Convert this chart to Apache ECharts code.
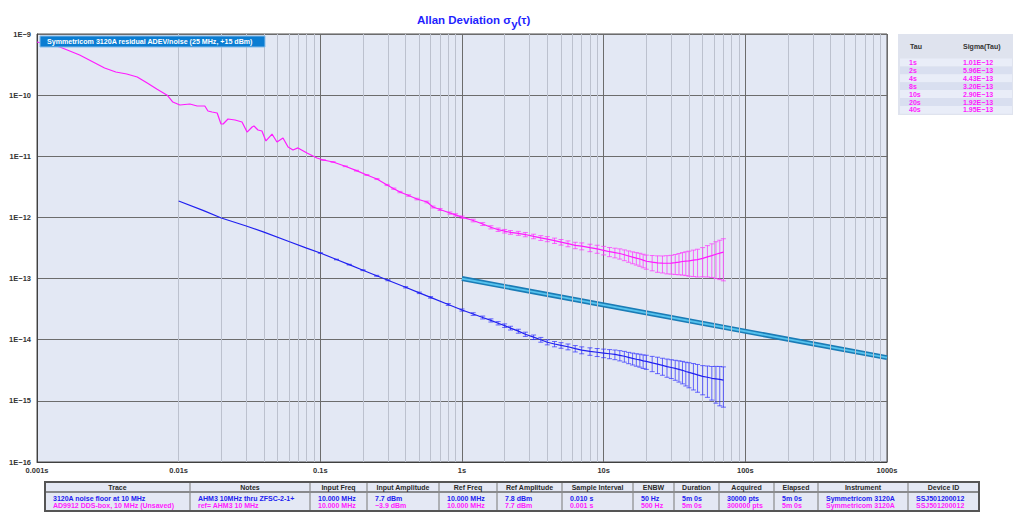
<!DOCTYPE html>
<html><head><meta charset="utf-8">
<script src="https://cdn.jsdelivr.net/npm/echarts@6/dist/echarts.min.js"></script>
<style>html,body{margin:0;padding:0;background:#fff}#c{width:1024px;height:532px}</style>
</head><body><div id="c"></div>
<script>
// ---------- DATA ----------
const xTickLabels = ['0.001s','0.01s','0.1s','1s','10s','100s','1000s'];
const yTickLabels = ['1E\u221216','1E\u221215','1E\u221214','1E\u221213','1E\u221212','1E\u221211','1E\u221210','1E\u22129'];

// AD9912 DDS-box (magenta): tau, sigma, error-bar fraction (null = no bar drawn)
const magTau = [0.001,0.00145,0.002,0.003,0.0036,0.0043,0.0051,0.006,0.007,0.0083,0.0091,0.0102,0.012,0.0135,0.0153,0.0161,0.0172,0.0187,0.0199,0.0206,0.0223,0.025,0.028,0.0304,0.033,0.034,0.0363,0.0387,0.0413,0.0456,0.0494,0.0545,0.0592,0.0641,0.0695,0.0805,0.0946,
  0.105,0.123,0.15,0.18,0.213,0.251,0.296,0.33,0.365,0.42,0.481,0.566,0.624,0.7,0.822,0.9,1,
  1.2,1.4,1.6,1.8,2,2.2,2.5,2.8,3.2,3.6,4,4.5,5,5.6,6.3,7,8,9,10,
  11,12,13,14,15,16,17,18,19,20,22,24,26,28,30,32,34,36,38,40,43,46,50,54,58,62,66,70];
const magSigma = [7.4e-10,6.12e-10,4.54e-10,2.78e-10,2.39e-10,2.22e-10,1.98e-10,1.58e-10,1.26e-10,1.0e-10,7.72e-11,6.9e-11,7.16e-11,6.64e-11,6.64e-11,5.5e-11,5.3e-11,5.11e-11,3.37e-11,3.37e-11,4.07e-11,3.92e-11,3.64e-11,2.49e-11,3.01e-11,3.13e-11,2.69e-11,2.59e-11,1.78e-11,2.31e-11,1.71e-11,1.99e-11,1.42e-11,1.27e-11,1.37e-11,1.13e-11,9.37e-12,
  8.69e-12,8.06e-12,6.86e-12,5.82e-12,4.94e-12,4.25e-12,3.39e-12,2.95e-12,2.6e-12,2.28e-12,2.0e-12,1.79e-12,1.48e-12,1.35e-12,1.18e-12,1.1e-12,1.01e-12,
  8.9e-13,7.8e-13,6.9e-13,6.3e-13,5.96e-13,5.7e-13,5.5e-13,5.25e-13,4.9e-13,4.62e-13,4.43e-13,4.17e-13,3.94e-13,3.72e-13,3.5e-13,3.39e-13,3.2e-13,3.05e-13,2.9e-13,
  2.75e-13,2.66e-13,2.57e-13,2.45e-13,2.34e-13,2.24e-13,2.16e-13,2.09e-13,2.0e-13,1.92e-13,1.86e-13,1.81e-13,1.79e-13,1.78e-13,1.79e-13,1.82e-13,1.86e-13,1.9e-13,1.93e-13,1.95e-13,2.0e-13,2.04e-13,2.14e-13,2.26e-13,2.37e-13,2.5e-13,2.6e-13,2.7e-13];
const magErr = [null,null,null,null,null,null,null,null,null,null,null,null,null,null,null,null,null,null,null,null,null,null,null,null,null,null,null,null,null,null,null,null,null,null,null,null,null,
  0.012,0.013,0.014,0.016,0.018,0.02,0.022,0.024,0.026,0.028,0.03,0.033,0.035,0.038,0.041,0.043,0.045,
  0.05,0.055,0.06,0.063,0.067,0.07,0.075,0.08,0.085,0.09,0.095,0.1,0.105,0.11,0.12,0.13,0.14,0.15,0.16,
  0.17,0.18,0.19,0.2,0.21,0.22,0.23,0.24,0.25,0.26,0.28,0.3,0.31,0.33,0.34,0.36,0.38,0.4,0.42,0.44,0.46,0.48,0.5,0.53,0.56,0.6,0.63,0.66];

// 3120A noise floor (blue)
const blueTau = [0.01,0.015,0.02,0.03,0.04,0.06,0.08,0.1,0.13,0.16,0.2,0.25,0.3,0.4,0.5,0.6,0.8,1,
  1.2,1.4,1.6,1.8,2,2.2,2.5,2.8,3.2,3.6,4,4.5,5,5.6,6.3,7,8,9,10,
  11,12,13,14,15,16,17,18,19,20,22,24,26,28,30,32,34,36,38,40,43,46,50,54,58,62,66,70];
const blueSigma = [1.86e-12,1.29e-12,9.8e-13,7.24e-13,5.75e-13,4.03e-13,3.15e-13,2.62e-13,2.05e-13,1.69e-13,1.37e-13,1.11e-13,9.4e-14,7.2e-14,5.84e-14,4.93e-14,3.77e-14,3.06e-14,
  2.63e-14,2.31e-14,2.07e-14,1.86e-14,1.7e-14,1.55e-14,1.38e-14,1.23e-14,1.1e-14,1.0e-14,9.1e-15,8.5e-15,8.1e-15,7.67e-15,7.16e-15,6.76e-15,6.46e-15,6.24e-15,6.05e-15,
  5.89e-15,5.75e-15,5.56e-15,5.37e-15,5.13e-15,4.95e-15,4.79e-15,4.68e-15,4.52e-15,4.42e-15,4.17e-15,3.98e-15,3.8e-15,3.63e-15,3.51e-15,3.39e-15,3.27e-15,3.16e-15,3.02e-15,2.92e-15,2.79e-15,2.66e-15,2.51e-15,2.43e-15,2.34e-15,2.29e-15,2.24e-15,2.19e-15];
const blueErr = [null,null,null,null,null,null,null,0.01,0.012,0.014,0.016,0.018,0.02,0.024,0.028,0.03,0.036,0.04,
  0.05,0.055,0.06,0.063,0.067,0.07,0.075,0.08,0.085,0.09,0.095,0.1,0.105,0.11,0.12,0.13,0.14,0.15,0.16,
  0.17,0.18,0.19,0.2,0.21,0.22,0.23,0.24,0.25,0.26,0.28,0.3,0.31,0.33,0.34,0.36,0.38,0.4,0.42,0.44,0.46,0.48,0.5,0.53,0.56,0.6,0.63,0.64];

// Symmetricom reference line (cyan)
const refName = 'Symmetricom 3120A residual ADEV/noise (25 MHz, +15 dBm)';
const refTau = [1, 1000];
const refSigma = [1.0e-13, 5.1e-15];

// side table
const sigmaTauLabels = ['1s','2s','4s','8s','10s','20s','40s'];
const sigmaValues = ['1.01E\u221212','5.96E\u221213','4.43E\u221213','3.20E\u221213','2.90E\u221213','1.92E\u221213','1.95E\u221213'];

// bottom table
const tableHeaders = ['Trace','Notes','Input Freq','Input Amplitude','Ref Freq','Ref Amplitude','Sample Interval','ENBW','Duration','Acquired','Elapsed','Instrument','Device ID'];
const rowBlue = ['3120A noise floor at 10 MHz','AHM3 10MHz thru ZFSC-2-1+','10.000 MHz','7.7 dBm','10.000 MHz','7.8 dBm','0.010 s','50 Hz','5m 0s','30000 pts','5m 0s','Symmetricom 3120A','SSJ501200012'];
const rowMag = ['AD9912 DDS-box, 10 MHz (Unsaved)','ref= AHM3 10 MHz','10.000 MHz','\u22123.9 dBm','10.000 MHz','7.7 dBm','0.001 s','500 Hz','5m 0s','300000 pts','5m 0s','Symmetricom 3120A','SSJ501200012'];

// ---------- BUILD ----------
const FONT = '"Liberation Sans", Arial, sans-serif';
const MAG = '#ff1aff', BLUE = '#2020f0';
const zip = (a, b) => a.map((v, i) => [v, b[i]]);
const errData = (t, s, e) => t.map((v, i) => e[i] == null ? null : [v, s[i] * (1 - e[i]), s[i] * (1 + e[i])]).filter(Boolean);

const minorX = [], minorY = [];
for (let d = -3; d < 3; d++) for (let m = 2; m < 10; m++) minorX.push({xAxis: m * Math.pow(10, d)});
for (let d = -16; d < -9; d++) for (let m = 2; m < 10; m++) minorY.push({yAxis: m * Math.pow(10, d)});

function errRender(color) {
  return function (params, api) {
    const x = api.value(0);
    const pLo = api.coord([x, api.value(1)]);
    const pHi = api.coord([x, api.value(2)]);
    const w = 2.5;
    const st = {stroke: color, lineWidth: 1};
    return {type: 'group', children: [
      {type: 'line', shape: {x1: pHi[0], y1: pHi[1], x2: pLo[0], y2: pLo[1]}, style: st},
      {type: 'line', shape: {x1: pHi[0] - w, y1: pHi[1], x2: pHi[0] + w, y2: pHi[1]}, style: st},
      {type: 'line', shape: {x1: pLo[0] - w, y1: pLo[1], x2: pLo[0] + w, y2: pLo[1]}, style: st}
    ]};
  };
}

// graphic tables
const G = [];
function rect(x, y, w, h, fill, stroke, lw) {
  G.push({type: 'rect', silent: true, shape: {x, y, width: w, height: h}, style: {fill: fill || 'none', stroke: stroke || 'none', lineWidth: lw || 1}});
}
function line(x1, y1, x2, y2, stroke, lw) {
  G.push({type: 'line', silent: true, shape: {x1, y1, x2, y2}, style: {stroke, lineWidth: lw || 1}});
}
function text(x, y, t, fill, align, size) {
  G.push({type: 'text', silent: true, x, y, style: {text: t, fill, font: 'bold ' + (size || 7) + 'px ' + FONT, align: align || 'left', verticalAlign: 'middle'}});
}
// side table
rect(898, 34, 115, 81, '#dfe3ee');
sigmaTauLabels.forEach((lab, i) => {
  const yy = 58.5 + i * 7.9;
  rect(900, yy, 112, 7.9, i % 2 === 0 ? '#e9edf8' : '#d9dff0');
  text(909, yy + 4, lab, MAG, 'left', 7);
  text(963, yy + 4, sigmaValues[i], MAG, 'left', 7);
});
text(910, 46.5, 'Tau', '#333', 'left', 7);
text(963, 46.5, 'Sigma(Tau)', '#333', 'left', 7);
// bottom table
const colEdges = [45,190,310,367,439,497,562,633,674,719,774,818,908,979];
rect(45, 482, 934, 29, '#e4e8f4');
line(45, 492, 979, 492, '#6a6a6a', 1.5);
for (let i = 1; i < colEdges.length - 1; i++) line(colEdges[i], 482, colEdges[i], 511, '#8a8a8a', 1.2);
rect(45, 482, 934, 29, 'none', '#555', 2);
tableHeaders.forEach((h, i) => {
  const cx = (colEdges[i] + colEdges[i + 1]) / 2;
  text(cx, 487.2, h, '#2a2a2a', 'center', 7);
  text(colEdges[i] + 8, 498, rowBlue[i], BLUE, 'left', 7);
  text(colEdges[i] + 8, 505.8, rowMag[i], MAG, 'left', 7);
});

const chart = echarts.init(document.getElementById('c'), null, {renderer: 'svg'});
chart.setOption({
  animation: false,
  backgroundColor: '#fff',
  title: {
    text: '{a|Allan Deviation \u03c3}{b|y}{a|(\u03c4)}',
    left: 412, top: 7,
    textStyle: {rich: {
      a: {fontSize: 11.5, fontWeight: 'bold', color: '#1f1fff', fontFamily: FONT, lineHeight: 16},
      b: {fontSize: 11.5, fontWeight: 'bold', color: '#1f1fff', fontFamily: FONT, lineHeight: 16, padding: [7, 0, 0, 0]}
    }}
  },
  legend: {
    data: [refName], left: 40, top: 36, z: 20, icon: 'none', itemWidth: 0, itemHeight: 0, itemGap: 0,
    backgroundColor: '#0b7dd2', borderColor: '#86bbe8', borderWidth: 1, padding: [2, 12, 2, 2],
    selectedMode: false,
    textStyle: {color: '#fff', fontSize: 7.1, fontWeight: 'bold', fontFamily: FONT, padding: 0}
  },
  grid: {left: 37, right: 137, top: 34, bottom: 70, show: true, backgroundColor: '#e3e8f4', borderColor: '#505050', borderWidth: 1},
  xAxis: {
    type: 'log', logBase: 10, min: 0.001, max: 1000,
    axisLine: {show: true, lineStyle: {color: '#404040', width: 1}},
    axisTick: {show: false},
    axisLabel: {margin: 4, color: '#333', fontSize: 7.5, fontWeight: 'bold', fontFamily: FONT,
      formatter: v => xTickLabels[Math.round(Math.log10(v)) + 3]},
    splitLine: {show: true, lineStyle: {color: '#6c6c6c', width: 1}}
  },
  yAxis: {
    type: 'log', logBase: 10, min: 1e-16, max: 1e-9,
    axisLine: {show: true, lineStyle: {color: '#404040', width: 1}},
    axisTick: {show: false},
    axisLabel: {margin: 6, color: '#333', fontSize: 7.5, fontWeight: 'bold', fontFamily: FONT,
      formatter: v => yTickLabels[Math.round(Math.log10(v)) + 16]},
    splitLine: {show: true, lineStyle: {color: '#6c6c6c', width: 1}}
  },
  graphic: G,
  series: [
    {type: 'line', name: 'minor', data: [], z: 1, silent: true,
      markLine: {silent: true, symbol: 'none', label: {show: false}, animation: false,
        lineStyle: {color: '#bcc1ce', width: 1, type: 'solid'}, data: minorX.concat(minorY)}},
    {type: 'line', name: refName, data: zip(refTau, refSigma), symbol: 'none', z: 3,
      lineStyle: {color: '#1b7cb6', width: 5}, itemStyle: {color: '#0b7dd2'}},
    {type: 'line', name: 'refInner', data: zip(refTau, refSigma), symbol: 'none', z: 4,
      lineStyle: {color: '#56c3ee', width: 1.8}},
    {type: 'custom', name: 'blueErr', z: 5, data: errData(blueTau, blueSigma, blueErr), renderItem: errRender('rgba(50,50,255,0.72)')},
    {type: 'line', name: '3120A noise floor at 10 MHz', data: zip(blueTau, blueSigma), symbol: 'none', z: 6,
      lineStyle: {color: BLUE, width: 1.2}},
    {type: 'custom', name: 'magErr', z: 5, data: errData(magTau, magSigma, magErr), renderItem: errRender('rgba(255,50,255,0.72)')},
    {type: 'line', name: 'AD9912 DDS-box, 10 MHz (Unsaved)', data: zip(magTau, magSigma), symbol: 'none', z: 6,
      lineStyle: {color: MAG, width: 1.2}}
  ]
});
</script></body></html>
